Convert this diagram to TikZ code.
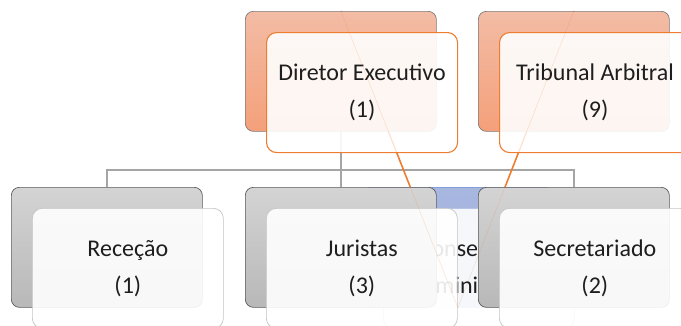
\documentclass[tikz,border=0pt]{standalone}
\usepackage{fontspec}
\setmainfont{Carlito}
\definecolor{txt}{RGB}{30,30,30}
\definecolor{orng}{RGB}{237,125,49}
\definecolor{otop}{RGB}{243,188,165}
\definecolor{obot}{RGB}{244,160,122}
\definecolor{gtop}{RGB}{212,212,212}
\definecolor{gbot}{RGB}{184,184,184}
\definecolor{btop}{RGB}{168,183,224}
\definecolor{bbot}{RGB}{160,176,220}
\definecolor{bedge}{RGB}{100,132,205}
\definecolor{gedge}{RGB}{90,90,90}
\definecolor{fedge}{RGB}{196,196,196}
\definecolor{conn}{RGB}{165,165,165}
\pgfdeclarelayer{bg}\pgfdeclarelayer{fg}\pgfsetlayers{bg,main,fg}
\tikzset{
  box/.style={rectangle, rounded corners=8pt, minimum width=191pt, minimum height=120pt, inner sep=0pt, anchor=north west, line width=0.7pt},
  backO/.style={box, draw=gedge!80, top color=otop, bottom color=obot},
  backG/.style={box, draw=gedge, top color=gtop, bottom color=gbot},
  backB/.style={box, draw=bedge, top color=btop, bottom color=bbot},
  front/.style={box, rounded corners=10pt, fill=white, fill opacity=0.9, text opacity=1, text=txt, align=center, font={\fontsize{24}{37}\selectfont}},
  frontO/.style={front, draw=orng, line width=1.1pt},
  frontG/.style={front, draw=fedge},
  frontB/.style={front, draw=bedge!60},
  connline/.style={draw=conn, line width=1.4pt},
  oline/.style={draw=orng, line width=1.6pt},
  ofaint/.style={draw=orng, line width=0.6pt, draw opacity=0.18}
}
\begin{document}
\begin{tikzpicture}[x=1pt,y=-1pt]
\useasboundingbox (0,0) rectangle (681,325);
% Conselho (mostly hidden)
\node[backB] (conb) at (362,187) {};
\node[frontB] (conf) at (383,208) {Conselho de\\Administração};
% back boxes
\node[backG] (jurb) at (245,187) {};
\node[backG] (secb) at (478,187) {};
\node[backG] (recb) at (11,187) {};
\node[backO] (dirb) at (245,11) {};
\node[backO] (trib) at (478,11) {};
% front boxes
\node[frontG] (recf) at (32,208) {Receção\\(1)};
\node[frontG] (jurf) at (266,208) {Juristas\\(3)};
\node[frontG] (secf) at (499,208) {Secretariado\\(2)};
\node[frontO] (dirf) at (266,32) {Diretor Executivo\\(1)};
\node[frontO] (trif) at (499,32) {Tribunal Arbitral\\(9)};
\begin{pgfonlayer}{bg}
\draw[connline] (dirb.south) -- (jurb.north);
\draw[connline] (recb.north) -- ++(0,-17) -| (secb.north);
\draw[oline] (conb.south) -- (dirb.north);
\draw[oline] (conb.south) -- (trib.north);
\end{pgfonlayer}
\begin{pgfonlayer}{fg}
\draw[ofaint] (conb.south) -- (dirb.north);
\draw[ofaint] (conb.south) -- (trib.north);
\end{pgfonlayer}
\end{tikzpicture}
\end{document}
